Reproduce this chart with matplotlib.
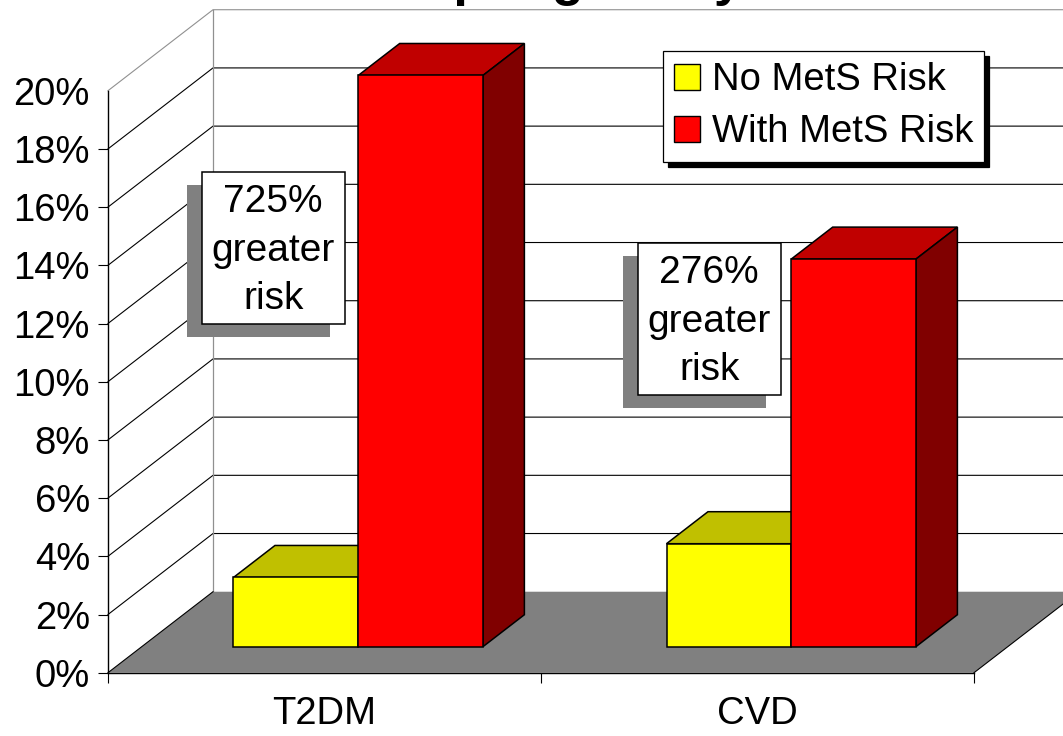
import numpy as np
import matplotlib.pyplot as plt
from matplotlib.patches import Polygon, Rectangle, Patch

plt.rcParams['font.family'] = ['Liberation Sans', 'DejaVu Sans']

# data
categories = ['T2DM', 'CVD']
series_names = ['No MetS Risk', 'With MetS Risk']
no_mets = [2.38, 3.54]
with_mets = [19.63, 13.32]
callouts = ['725%\ngreater\nrisk', '276%\ngreater\nrisk']
yticks = np.arange(0, 21, 2)
ytick_labels = ['%d%%' % v for v in yticks]

# colours: front face, top face, side face
face_cols = [('#ffff00', '#c0c000', '#808000'),
             ('#ff0000', '#c00000', '#800000')]

# oblique projection used for the 3-D look
DX, DY = 0.2425, 2.783      # shift of the back wall (x units, percent)
Z_BAR, D_BAR = 0.321, 0.395  # depth where the bars start, and their depth
BAR_W = 0.288
FS = 27.5


def proj(x, y, z):
    return (x + z * DX, y + z * DY)


def draw_box(ax, x0, x1, h, cols, zorder):
    z0, z1 = Z_BAR, Z_BAR + D_BAR
    front = [proj(x0, 0, z0), proj(x1, 0, z0), proj(x1, h, z0), proj(x0, h, z0)]
    top = [proj(x0, h, z0), proj(x1, h, z0), proj(x1, h, z1), proj(x0, h, z1)]
    side = [proj(x1, 0, z0), proj(x1, 0, z1), proj(x1, h, z1), proj(x1, h, z0)]
    for pts, c in ((top, cols[1]), (side, cols[2]), (front, cols[0])):
        ax.add_patch(Polygon(pts, closed=True, facecolor=c, edgecolor='black',
                             linewidth=1.1, joinstyle='miter', zorder=zorder))


fig = plt.figure(figsize=(10.63, 7.36), dpi=100)
ax = fig.add_axes([0, 0, 1, 1])
ax.set_xlim(-0.2494, 2.2055)
ax.set_ylim(-2.175, 23.117)
n = len(categories)

# walls: gridlines on the left wall and back wall
for v in yticks[1:]:
    col = '#909090' if v == yticks[-1] else 'black'
    xs, ys = zip(proj(0, v, 0), proj(0, v, 1), proj(n, v, 1))
    ax.plot(xs, ys, color=col, linewidth=0.8, zorder=0.5)
xs, ys = zip(proj(0, 0, 1), proj(0, yticks[-1], 1))
ax.plot(xs, ys, color='#909090', linewidth=0.9, zorder=0.5)

# floor
floor = [proj(0, 0, 0), proj(n, 0, 0), proj(n, 0, 1), proj(0, 0, 1)]
ax.add_patch(Polygon(floor, closed=True, facecolor='#808080', edgecolor='none', zorder=1))
for xe in (0, n):
    xs, ys = zip(proj(xe, 0, 0), proj(xe, 0, 1))
    ax.plot(xs, ys, color='black', linewidth=0.8, zorder=1.2)

# bars
for i in range(n):
    c = i + 0.5
    draw_box(ax, c - BAR_W, c, no_mets[i], face_cols[0], 2)
    draw_box(ax, c, c + BAR_W, with_mets[i], face_cols[1], 2.1)

# callout boxes with a drop shadow
box_w, box_h = 0.33, 5.24
box_y = [11.98, 9.54]
box_dx = [-0.2836, -0.2767]
for i, txt in enumerate(callouts):
    bx = i + 0.5 + box_dx[i]
    ax.add_patch(Rectangle((bx - 0.0346, box_y[i] - 0.447), box_w, box_h,
                           facecolor='#808080', edgecolor='none', zorder=3))
    ax.add_patch(Rectangle((bx, box_y[i]), box_w, box_h, facecolor='white',
                           edgecolor='black', linewidth=1.1, zorder=4))
    ax.text(bx + box_w / 2, box_y[i] + box_h / 2 - 0.1, txt, ha='center',
            va='center', fontsize=FS + 0.5, linespacing=1.45, zorder=5)

# axes: front vertical axis and category axis
for s in ('top', 'right'):
    ax.spines[s].set_visible(False)
ax.spines['left'].set_position(('data', 0))
ax.spines['left'].set_bounds(0, yticks[-1])
ax.spines['bottom'].set_position(('data', 0))
ax.spines['bottom'].set_bounds(0, n)
for s in ('left', 'bottom'):
    ax.spines[s].set_linewidth(1.0)
    ax.spines[s].set_zorder(1.5)

ax.set_yticks(yticks, labels=ytick_labels)
ax.tick_params(axis='y', direction='out', length=7.2, width=0.8, pad=5.8,
               labelsize=FS)
ax.yaxis.get_major_ticks()[-1].tick1line.set_visible(False)

ax.set_xticks(np.arange(n + 1), labels=[''] * (n + 1))
ax.set_xticks(np.arange(n) + 0.5, labels=categories, minor=True)
ax.tick_params(axis='x', which='major', direction='out', length=7.2, width=0.8)
ax.tick_params(axis='x', which='minor', length=0, pad=16.5, labelsize=FS)

# legend
handles = [Patch(facecolor=face_cols[k][0], edgecolor='black', linewidth=1.0)
           for k in range(2)]
leg = ax.legend(handles, series_names, loc='upper left',
                bbox_to_anchor=(662.7 / 1063, 1 - 51 / 736),
                bbox_transform=fig.transFigure, borderaxespad=0,
                fontsize=FS, handlelength=0.68, handleheight=0.68,
                handletextpad=0.3, labelspacing=0.42, borderpad=0.3,
                fancybox=False, framealpha=1,
                shadow={'ox': 3.6, 'oy': -3.6, 'color': 'black', 'alpha': 1})
leg.get_frame().set_edgecolor('black')
leg.get_frame().set_linewidth(0.9)
leg.set_zorder(10)

# title (runs off the top edge)
fig.text(546 / 1063, 1 - 6 / 736, 'Framingham\nOffspring Study', ha='center',
         va='bottom', fontsize=37.5, fontweight='bold')

fig.savefig('out.png', dpi=100)
